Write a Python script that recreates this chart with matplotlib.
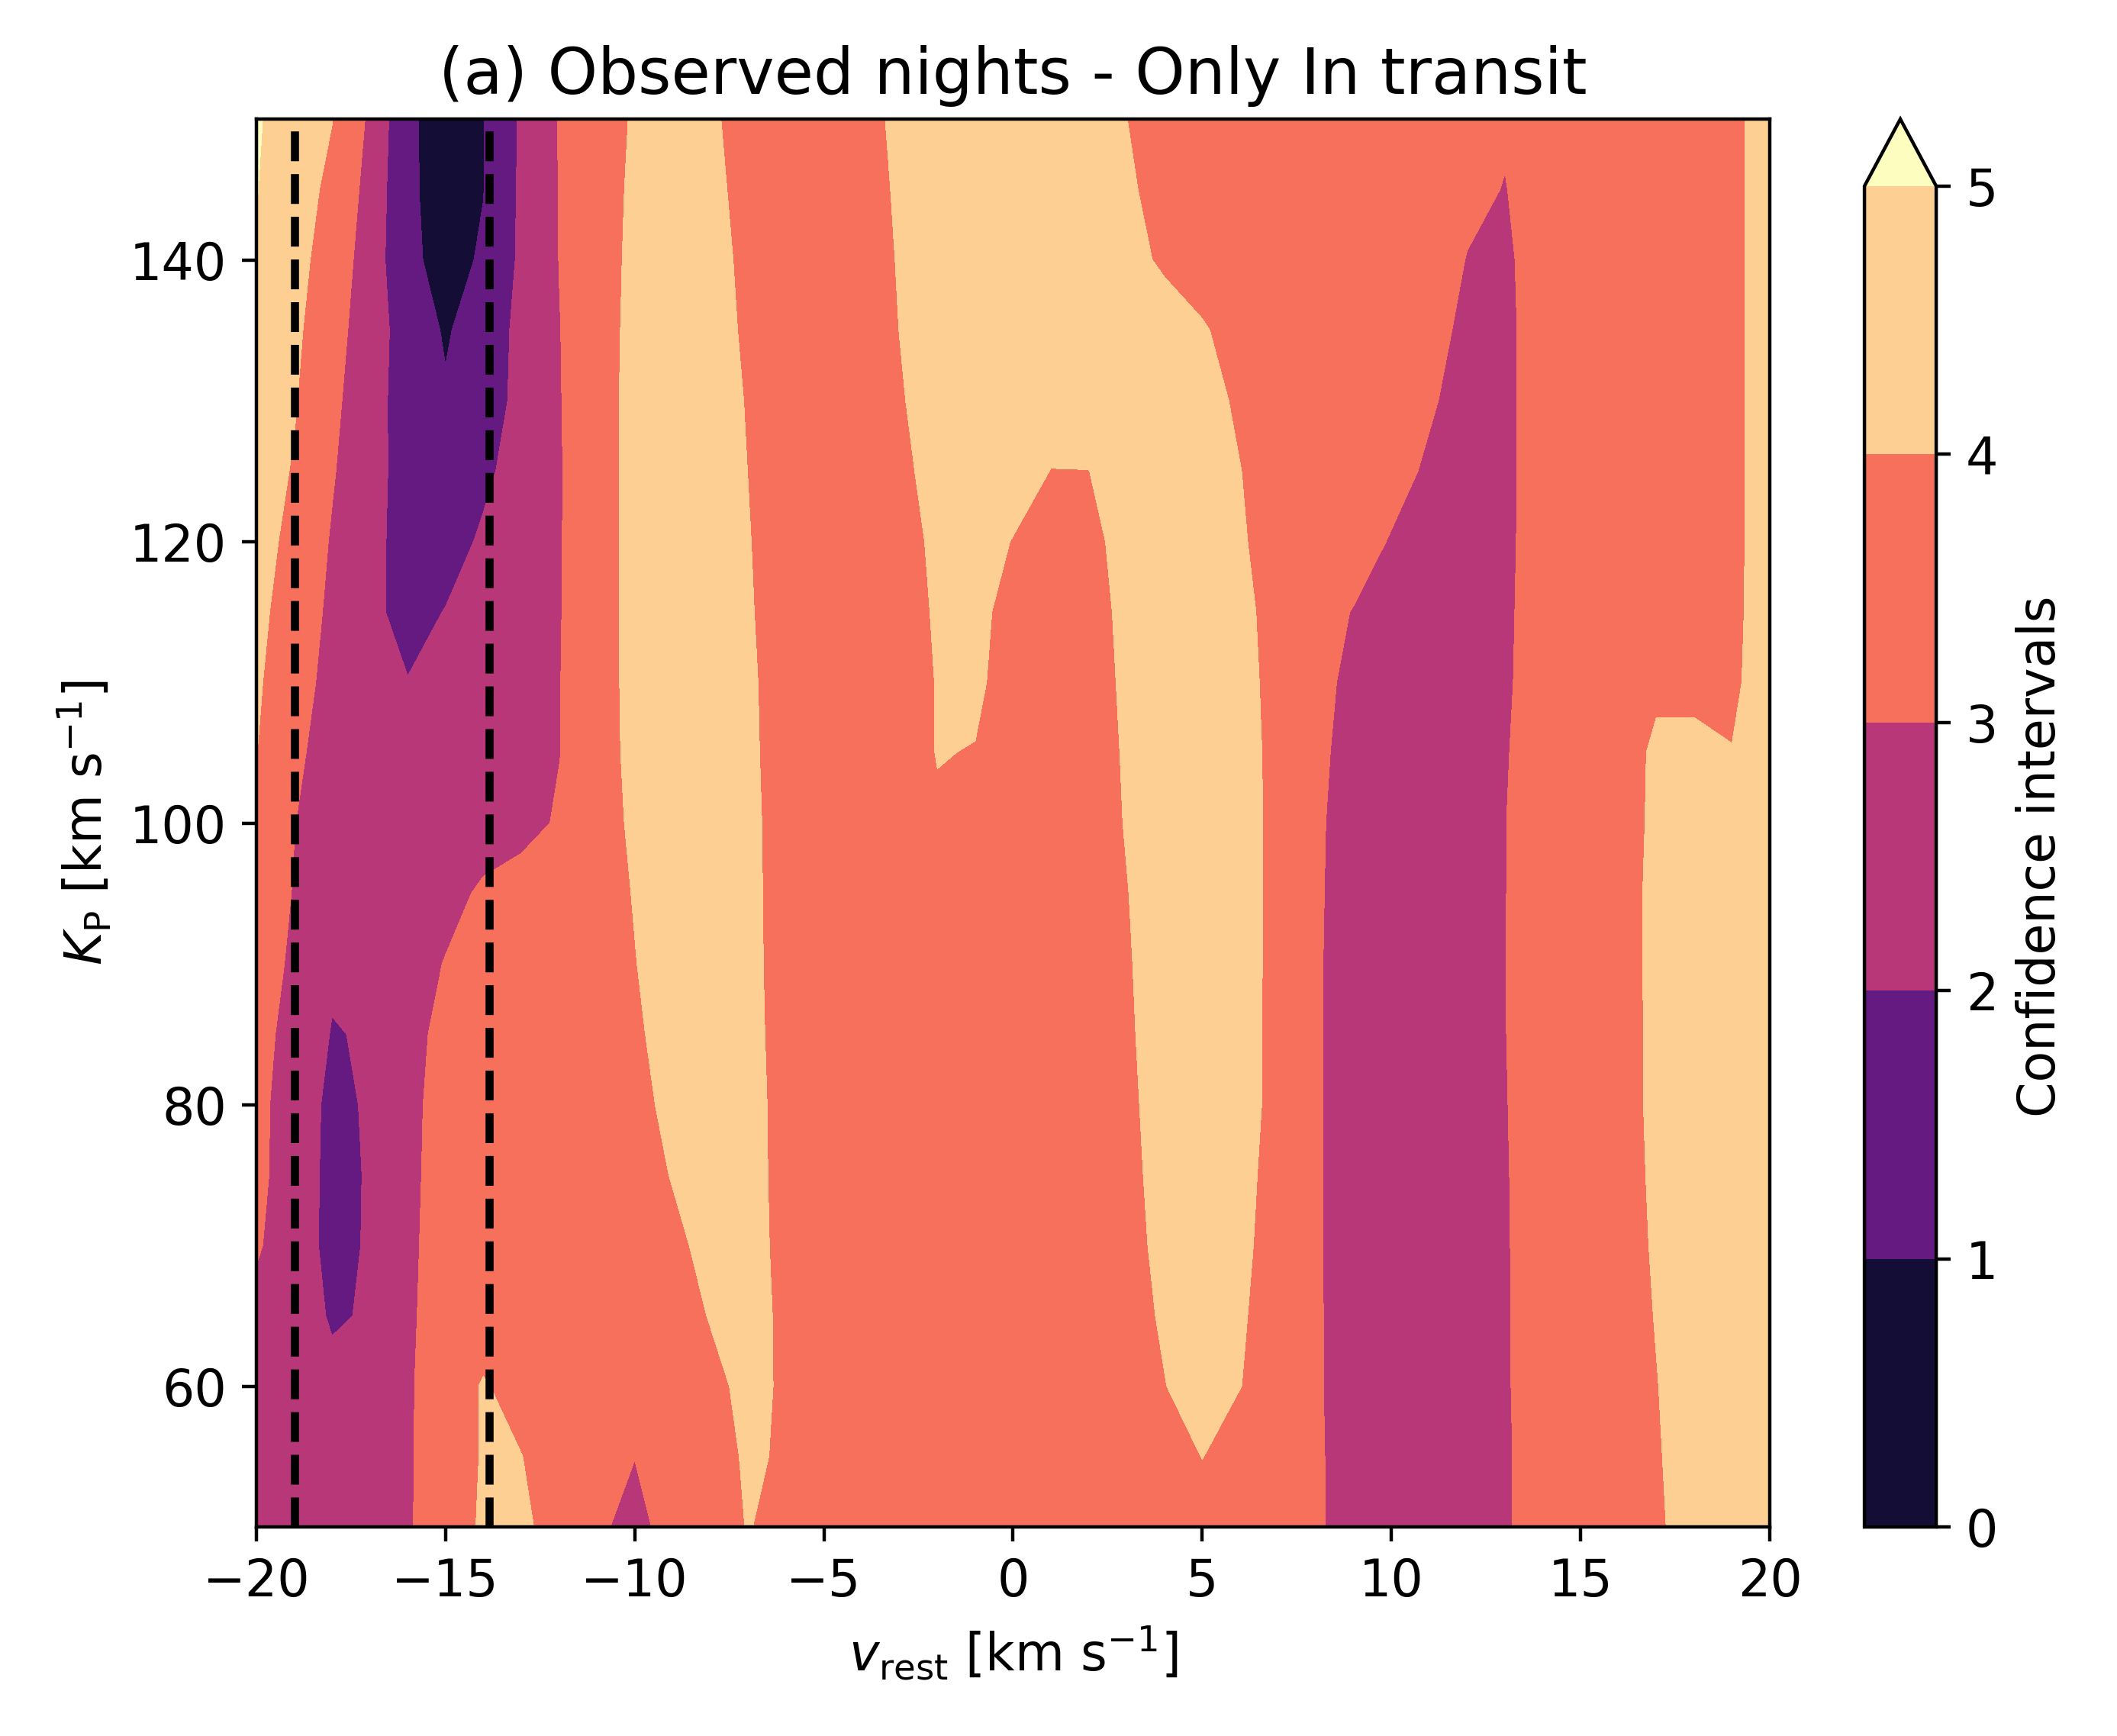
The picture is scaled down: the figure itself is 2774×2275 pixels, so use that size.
import numpy as np
import matplotlib
matplotlib.use("Agg")
import matplotlib.pyplot as plt

plt.rcParams['font.size'] = 12

# grid axes
v_rest = np.arange(-20, 21, 1)          # km/s, columns
kp = np.arange(50, 151, 5)              # km/s, rows

# confidence-interval map; each row is one Kp value, columns v_rest = -20 ... 20
row_050 = [2.5, 2.5, 2.5, 2.5, 2.91, 3.52, 4.12, 4.3, 3.4, 3.22, 2.6, 3.51, 3.5, 4.05, 3.63, 3.5, 3.5, 3.5, 3.5, 3.5,
           3.5, 3.5, 3.5, 3.5, 3.5, 3.5, 3.5, 3.5, 3.13, 2.63, 2.5, 2.5, 2.5, 2.9, 3.4, 3.5, 3.5, 3.87, 4.37, 4.5, 4.5]
row_055 = [2.5, 2.5, 2.5, 2.5, 2.9, 3.48, 4.07, 4.02, 3.52, 3.4, 3.02, 3.3, 3.62, 4.12, 3.9, 3.5, 3.5, 3.5, 3.5, 3.5,
           3.5, 3.5, 3.5, 3.5, 3.51, 4.02, 3.55, 3.5, 3.12, 2.62, 2.5, 2.5, 2.5, 2.9, 3.4, 3.5, 3.5, 3.92, 4.42, 4.5, 4.5]
row_060 = [2.5, 2.5, 2.3, 2.5, 2.9, 3.46, 4.08, 3.63, 3.5, 3.5, 3.2, 3.5, 3.75, 4.25, 3.87, 3.5, 3.5, 3.5, 3.5, 3.5,
           3.5, 3.5, 3.5, 3.5, 3.97, 4.47, 4.02, 3.56, 3.1, 2.61, 2.5, 2.5, 2.5, 2.92, 3.42, 3.5, 3.5, 3.97, 4.47, 4.5, 4.5]
row_065 = [2.95, 2.6, 1.88, 2.1, 2.87, 3.39, 3.5, 3.5, 3.5, 3.5, 3.5, 3.55, 4.05, 4.32, 3.82, 3.5, 3.5, 3.5, 3.5, 3.5,
           3.5, 3.5, 3.5, 3.62, 4.12, 4.5, 4.1, 3.6, 3.1, 2.6, 2.5, 2.5, 2.5, 2.92, 3.42, 3.5, 3.54, 4.04, 4.5, 4.5, 4.5]
row_070 = [3.02, 2.9, 1.5, 2.16, 2.83, 3.38, 3.5, 3.5, 3.5, 3.5, 3.5, 3.78, 4.28, 4.28, 3.78, 3.5, 3.5, 3.5, 3.5, 3.5,
           3.5, 3.5, 3.5, 3.72, 4.22, 4.5, 4.19, 3.65, 3.1, 2.59, 2.5, 2.5, 2.5, 2.93, 3.43, 3.5, 3.6, 4.1, 4.5, 4.5, 4.5]
row_075 = [3.05, 2.9, 1.55, 2.12, 2.8, 3.35, 3.5, 3.5, 3.5, 3.5, 3.55, 4.05, 4.5, 4.26, 3.76, 3.5, 3.5, 3.5, 3.5, 3.5,
           3.5, 3.5, 3.5, 3.78, 4.28, 4.5, 4.25, 3.7, 3.1, 2.58, 2.5, 2.5, 2.5, 2.94, 3.44, 3.5, 3.64, 4.14, 4.5, 4.5, 4.5]
row_080 = [3.22, 2.6, 1.75, 2.11, 2.78, 3.32, 3.5, 3.5, 3.5, 3.5, 3.73, 4.23, 4.5, 4.25, 3.75, 3.5, 3.5, 3.5, 3.5, 3.5,
           3.5, 3.5, 3.5, 3.83, 4.33, 4.5, 4.32, 3.76, 3.1, 2.58, 2.5, 2.5, 2.5, 2.96, 3.46, 3.5, 3.67, 4.17, 4.5, 4.5, 4.5]
row_085 = [3.3, 2.7, 1.95, 2.08, 2.74, 3.22, 3.5, 3.5, 3.5, 3.5, 3.86, 4.36, 4.5, 4.22, 3.72, 3.5, 3.5, 3.5, 3.5, 3.5,
           3.5, 3.5, 3.5, 3.88, 4.38, 4.5, 4.32, 3.76, 3.1, 2.58, 2.5, 2.5, 2.5, 2.98, 3.48, 3.5, 3.67, 4.17, 4.5, 4.5, 4.5]
row_090 = [3.37, 2.87, 2.15, 2.5, 2.5, 3.05, 3.5, 3.5, 3.5, 3.5, 3.97, 4.47, 4.5, 4.2, 3.7, 3.5, 3.5, 3.5, 3.5, 3.5,
           3.5, 3.5, 3.5, 3.92, 4.42, 4.5, 4.33, 3.77, 3.1, 2.58, 2.5, 2.5, 2.5, 2.99, 3.49, 3.5, 3.68, 4.18, 4.5, 4.5, 4.5]
row_095 = [3.6, 2.95, 2.4, 2.5, 2.5, 2.66, 3.16, 3.5, 3.5, 3.55, 4.05, 4.5, 4.5, 4.19, 3.69, 3.5, 3.5, 3.5, 3.5, 3.5,
           3.5, 3.5, 3.5, 3.97, 4.47, 4.5, 4.33, 3.78, 3.12, 2.59, 2.5, 2.5, 2.5, 2.98, 3.48, 3.5, 3.68, 4.18, 4.5, 4.5, 4.5]
row_100 = [3.9, 3.02, 2.52, 2.5, 2.5, 2.5, 2.5, 2.62, 3.12, 3.63, 4.14, 4.5, 4.5, 4.18, 3.68, 3.5, 3.5, 3.6, 3.9, 3.85,
           3.5, 3.5, 3.55, 4.05, 4.5, 4.5, 4.33, 3.78, 3.14, 2.61, 2.5, 2.5, 2.5, 2.98, 3.48, 3.5, 3.65, 4.15, 4.5, 4.5, 4.5]
row_105 = [4.02, 3.18, 2.61, 2.4, 2.25, 2.35, 2.45, 2.5, 2.97, 3.63, 4.22, 4.5, 4.5, 4.15, 3.65, 3.5, 3.5, 3.6, 4.03, 3.97,
           3.6, 3.5, 3.59, 4.09, 4.5, 4.5, 4.3, 3.78, 3.2, 2.68, 2.5, 2.5, 2.5, 2.94, 3.44, 3.5, 3.58, 4.15, 4.15, 4.02, 4.4]
row_110 = [4.13, 3.37, 2.72, 2.3, 2.03, 2.2, 2.4, 2.5, 2.97, 3.64, 4.24, 4.5, 4.5, 4.13, 3.63, 3.5, 3.5, 3.54, 4.04, 4.15,
           3.65, 3.5, 3.64, 4.14, 4.5, 4.5, 4.25, 3.76, 3.27, 2.78, 2.5, 2.5, 2.5, 2.89, 3.39, 3.5, 3.5, 3.85, 3.85, 3.87, 4.37]
row_115 = [4.24, 3.56, 2.81, 2.22, 1.69, 2.03, 2.5, 2.5, 2.95, 3.64, 4.24, 4.5, 4.5, 4.08, 3.58, 3.5, 3.5, 3.6, 4.1, 4.22,
           3.72, 3.5, 3.69, 4.19, 4.5, 4.5, 4.18, 3.75, 3.36, 2.96, 2.5, 2.5, 2.5, 2.87, 3.37, 3.5, 3.5, 3.5, 3.5, 3.84, 4.34]
row_120 = [4.35, 3.75, 2.92, 2.24, 1.68, 1.63, 2.13, 2.5, 2.94, 3.64, 4.25, 4.5, 4.5, 4.04, 3.54, 3.5, 3.5, 3.67, 4.17, 4.46,
           3.96, 3.5, 3.78, 4.28, 4.5, 4.5, 4.1, 3.6, 3.5, 3.43, 2.93, 2.5, 2.5, 2.85, 3.35, 3.5, 3.5, 3.5, 3.5, 3.83, 4.33]
row_125 = [4.46, 3.93, 3.08, 2.29, 1.68, 1.5, 1.82, 2.37, 2.93, 3.64, 4.25, 4.5, 4.49, 3.99, 3.5, 3.5, 3.5, 3.8, 4.3, 4.5,
           4.48, 3.98, 3.99, 4.5, 4.5, 4.5, 4.02, 3.52, 3.5, 3.5, 3.35, 2.85, 2.5, 2.84, 3.34, 3.5, 3.5, 3.5, 3.5, 3.83, 4.33]
row_130 = [4.5, 4.07, 3.23, 2.35, 1.6, 1.1, 1.5, 2.28, 2.95, 3.64, 4.25, 4.5, 4.44, 3.94, 3.5, 3.5, 3.5, 3.92, 4.42, 4.5,
           4.5, 4.5, 4.5, 4.5, 4.5, 4.35, 3.85, 3.5, 3.5, 3.5, 3.5, 3.12, 2.62, 2.84, 3.34, 3.5, 3.5, 3.5, 3.5, 3.83, 4.33]
row_135 = [4.5, 4.18, 3.4, 2.44, 1.59, 0.9, 1.5, 2.22, 2.97, 3.64, 4.22, 4.5, 4.36, 3.86, 3.5, 3.5, 3.5, 4.01, 4.5, 4.5,
           4.5, 4.5, 4.5, 4.5, 4.5, 4.1, 3.6, 3.5, 3.5, 3.5, 3.5, 3.3, 2.8, 2.84, 3.34, 3.5, 3.5, 3.5, 3.5, 3.83, 4.33]
row_140 = [4.97, 4.3, 3.59, 2.54, 1.2, 0.7, 1.1, 2.17, 3.01, 3.62, 4.19, 4.5, 4.3, 3.8, 3.5, 3.5, 3.56, 4.06, 4.5, 4.5,
           4.5, 4.5, 4.5, 4.34, 3.84, 3.5, 3.5, 3.5, 3.5, 3.5, 3.5, 3.48, 2.97, 2.87, 3.36, 3.5, 3.5, 3.5, 3.5, 3.83, 4.33]
row_145 = [5.03, 4.4, 3.8, 2.68, 1.15, 0.65, 0.98, 2.15, 3.02, 3.6, 4.15, 4.5, 4.22, 3.72, 3.5, 3.5, 3.62, 4.12, 4.5, 4.5,
           4.5, 4.5, 4.5, 4.15, 3.65, 3.5, 3.5, 3.5, 3.5, 3.5, 3.5, 3.5, 3.2, 2.97, 3.4, 3.5, 3.5, 3.5, 3.5, 3.83, 4.33]
row_150 = [5.1, 4.5, 4.02, 2.85, 1.15, 0.64, 0.97, 2.12, 3.04, 3.57, 4.09, 4.5, 4.14, 3.64, 3.5, 3.5, 3.69, 4.19, 4.5, 4.5,
           4.5, 4.5, 4.5, 4.01, 3.5, 3.5, 3.5, 3.5, 3.5, 3.5, 3.5, 3.5, 3.1, 3.1, 3.5, 3.5, 3.5, 3.5, 3.5, 3.83, 4.33]

sigma = np.array([row_050, row_055, row_060, row_065, row_070, row_075, row_080,
                  row_085, row_090, row_095, row_100, row_105, row_110, row_115,
                  row_120, row_125, row_130, row_135, row_140, row_145, row_150])

levels = [0, 1, 2, 3, 4, 5]
v_lines = [-19.0, -13.85]

fig = plt.figure(figsize=(2774 / 400, 2275 / 400), dpi=400)
ax = fig.add_axes([0.1211, 0.1204, 0.7149, 0.8110])
cax = fig.add_axes([0.8807, 0.1204, 0.0339, 0.8110])

cs = ax.contourf(v_rest, kp, sigma, levels=levels, cmap='magma', extend='max')
for vl in v_lines:
    ax.axvline(vl, color='black', linestyle='--', linewidth=1.9)

ax.set_xlim(-20, 20)
ax.set_ylim(50, 150)
ax.set_xticks([-20, -15, -10, -5, 0, 5, 10, 15, 20])
ax.set_yticks([60, 80, 100, 120, 140])
ax.set_xlabel(r'$v_{\rm rest}$ [km s$^{-1}$]')
ax.set_ylabel(r'$K_{\rm P}$ [km s$^{-1}$]')
ax.set_title('(a) Observed nights - Only In transit', fontsize=15)

cb = fig.colorbar(cs, cax=cax)
cb.set_label('Confidence intervals')
cb.set_ticks(levels)

fig.savefig('out.png', dpi=400)
